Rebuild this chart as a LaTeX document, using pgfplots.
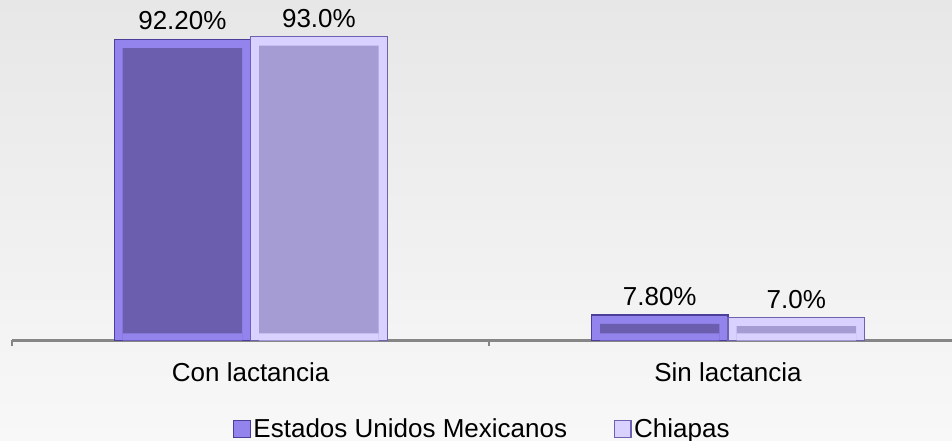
\documentclass[border=0pt]{standalone}
\usepackage{pgfplots}
\pgfplotsset{compat=1.18}
\usepackage{fontspec}
\setmainfont{Liberation Sans}
\definecolor{inA}{RGB}{107,94,174}
\definecolor{bevA}{RGB}{147,131,236}
\definecolor{outA}{RGB}{76,63,154}
\definecolor{inB}{RGB}{166,156,212}
\definecolor{bevB}{RGB}{217,209,255}
\definecolor{outB}{RGB}{108,98,176}
\definecolor{bgT}{RGB}{231,231,231}
\definecolor{bgB}{RGB}{248,248,248}
\definecolor{axgray}{RGB}{134,134,134}
\begin{document}
\begin{tikzpicture}[font=\fontsize{19.5pt}{23pt}\selectfont]
\useasboundingbox (0,0) rectangle (714pt,330.75pt);
\shade[top color=bgT, bottom color=bgB] (0,0) rectangle (714pt,330.75pt);
\begin{axis}[
  at={(9pt,75.375pt)}, anchor=south west,
  scale only axis, width=705pt, height=245pt,
  xmin=-0.5, xmax=1.4693, ymin=0, ymax=100,
  clip=false,
  axis x line*=bottom, axis y line=none,
  x axis line style={-, draw=axgray, line width=1.6pt},
  xtick={0,1}, xticklabels={Con lactancia, Sin lactancia},
  major tick length=0pt,
  xticklabel style={anchor=base, yshift=-30.4pt},
  extra x ticks={-0.5,0.5,1.5},
  extra x tick labels={},
  extra x tick style={major tick length=4.5pt, tick align=outside, tick style={draw=axgray, line width=1.6pt}},
  ytick=\empty,
  legend image code/.code={\draw[#1] (0pt,-6.25pt) rectangle (12.5pt,6.25pt);},
  legend style={at={(0.5007,-0.271)}, anchor=center, draw=none, fill=none,
    legend columns=2, font=\fontsize{19.5pt}{23pt}\selectfont,
    /tikz/every even column/.append style={column sep=33pt},
    nodes={inner sep=2pt}},
  every node near coord/.append style={anchor=base, yshift=7pt, inner sep=0pt, font=\fontsize{19.5pt}{23pt}\selectfont, text=black},
]
% Series 1 : Estados Unidos Mexicanos
\addplot[ybar, bar width=102.4pt, bar shift=-51.2pt, fill=bevA, draw=outA, line width=0.9pt,
  nodes near coords, point meta=explicit symbolic, forget plot,
  every node near coord/.append style={xshift=-51.2pt}]
  coordinates {(0,92.2) [92.20\%] (1,7.8) [7.80\%]};
\addplot[ybar, bar width=89.6pt, bar shift=-51.2pt, fill=inA, draw=none, forget plot]
  coordinates {(0,89.5) (1,5.1)};
\addplot[ybar, bar width=89.6pt, bar shift=-51.2pt, fill=bevA, draw=none, forget plot]
  coordinates {(0,2.2) (1,2.2)};
% Series 2 : Chiapas
\addplot[ybar, bar width=102.4pt, bar shift=51.2pt, fill=bevB, draw=outB, line width=0.9pt,
  nodes near coords, point meta=explicit symbolic, forget plot,
  every node near coord/.append style={xshift=51.2pt}]
  coordinates {(0,93.0) [93.0\%] (1,7.0) [7.0\%]};
\addplot[ybar, bar width=89.6pt, bar shift=51.2pt, fill=inB, draw=none, forget plot]
  coordinates {(0,90.3) (1,4.4)};
\addplot[ybar, bar width=89.6pt, bar shift=51.2pt, fill=bevB, draw=none, forget plot]
  coordinates {(0,2.2) (1,2.2)};
\addlegendimage{fill=bevA, draw=outA, line width=0.8pt}
\addlegendentry{Estados Unidos Mexicanos}
\addlegendimage{fill=bevB, draw=outB, line width=0.8pt}
\addlegendentry{Chiapas}
\end{axis}
\end{tikzpicture}
\end{document}
